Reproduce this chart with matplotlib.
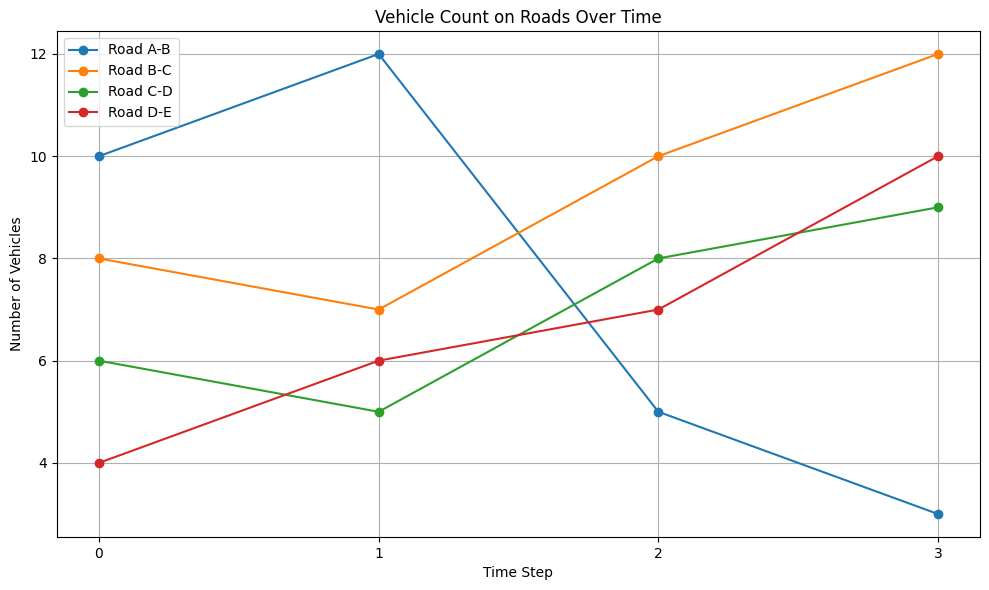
import matplotlib
matplotlib.use('Agg')
import matplotlib.pyplot as plt

# 数据
time_steps = [0, 1, 2, 3]
road_ab = [10, 12, 5, 3]
road_bc = [8, 7, 10, 12]
road_cd = [6, 5, 8, 9]
road_de = [4, 6, 7, 10]
labels = ['Road A-B', 'Road B-C', 'Road C-D', 'Road D-E']

plt.figure(figsize=(9.89, 5.9), dpi=100)

for values, label in zip([road_ab, road_bc, road_cd, road_de], labels):
    plt.plot(time_steps, values, marker='o', label=label)

plt.title('Vehicle Count on Roads Over Time')
plt.xlabel('Time Step')
plt.ylabel('Number of Vehicles')
plt.xticks(time_steps)
plt.legend(loc='upper left')
plt.grid(True)
plt.subplots_adjust(left=0.0576, right=0.9909, top=0.9475, bottom=0.0898)

plt.savefig('out.png', dpi=100)
